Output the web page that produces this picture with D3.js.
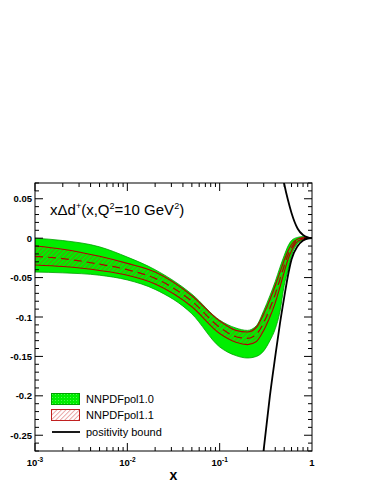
<!DOCTYPE html>
<html><head><meta charset="utf-8">
<script src="https://cdn.jsdelivr.net/npm/d3@7/dist/d3.min.js"></script>
<style>body{margin:0;background:#fff}svg{display:block}text{font-family:"Liberation Sans",Arial,Helvetica,sans-serif}</style>
</head><body><svg id="c" width="375" height="485"></svg>
<script>
// ---- data ----
const xs        = [0.001, 0.002, 0.005, 0.01, 0.02, 0.05, 0.1, 0.15, 0.2, 0.25, 0.3, 0.35, 0.4, 0.45, 0.5, 0.55, 0.6, 0.7, 0.8, 0.9, 1.0];
// NNPDFpol1.0 band
const pol10Low  = [-0.043,-0.044,-0.047,-0.053,-0.065,-0.096,-0.138,-0.149,-0.152,-0.150,-0.143,-0.130,-0.115,-0.093,-0.060,-0.040,-0.022,-0.007,-0.002,-0.0005,0];
const pol10High = [ 0.000,-0.003,-0.011,-0.024,-0.040,-0.071,-0.104,-0.114,-0.117,-0.111,-0.092,-0.073,-0.055,-0.037,-0.022,-0.010,-0.003, 0.001, 0.002, 0.001,0];
// NNPDFpol1.1 band and central value
const pol11Low  = [-0.034,-0.036,-0.041,-0.047,-0.058,-0.087,-0.121,-0.132,-0.135,-0.131,-0.117,-0.100,-0.082,-0.062,-0.043,-0.027,-0.016,-0.004,-0.001,0,0];
const pol11High = [-0.010,-0.014,-0.023,-0.032,-0.043,-0.073,-0.105,-0.117,-0.119,-0.113,-0.096,-0.078,-0.060,-0.043,-0.028,-0.016,-0.008,-0.001,0.0005,0.0003,0];
const pol11Mid  = [-0.023,-0.026,-0.033,-0.040,-0.051,-0.080,-0.113,-0.125,-0.127,-0.122,-0.107,-0.089,-0.071,-0.052,-0.035,-0.021,-0.012,-0.002,0,0,0];
// positivity bounds
const posUpX    = [0.45, 0.5, 0.55, 0.6, 0.7, 0.8, 0.9, 1.0];
const posUpY    = [0.100, 0.069, 0.048, 0.032, 0.012, 0.004, 0.001, 0];
const posLowX   = [0.27, 0.3, 0.35, 0.4, 0.45, 0.5, 0.55, 0.6, 0.7, 0.8, 0.9, 1.0];
const posLowY   = [-0.31, -0.268, -0.200, -0.150, -0.108, -0.075, -0.047, -0.027, -0.010, -0.003, -0.0005, 0];
// ticks
const yTicks      = [0.05, 0, -0.05, -0.1, -0.15, -0.2, -0.25];
const yTickLabels = ["0.05", "0", "-0.05", "-0.1", "-0.15", "-0.2", "-0.25"];
const xTicks      = [0.001, 0.01, 0.1, 1];
const xTickExp    = ["-3", "-2", "-1", ""];
const legendLabels = ["NNPDFpol1.0", "NNPDFpol1.1", "positivity bound"];

// ---- layout ----
const svg = d3.select("#c");
const L = 35, R = 312, T = 183, B = 451;
const x = d3.scaleLog().domain([0.001, 1]).range([L, R]);
const y = d3.scaleLinear().domain([-0.27, 0.07]).range([B, T]);

const defs = svg.append("defs");
defs.append("clipPath").attr("id", "clip").append("rect")
  .attr("x", L).attr("y", T).attr("width", R - L).attr("height", B - T);
const hatch = defs.append("pattern").attr("id", "hatch")
  .attr("patternUnits", "userSpaceOnUse").attr("width", 3.2).attr("height", 3.2)
  .attr("patternTransform", "rotate(45)");
hatch.append("line").attr("x1", 0.5).attr("y1", 0).attr("x2", 0.5).attr("y2", 3.2)
  .attr("stroke", "#c82020").attr("stroke-width", 0.8).attr("stroke-opacity", 0.5);
const dots = defs.append("pattern").attr("id", "dots")
  .attr("patternUnits", "userSpaceOnUse").attr("width", 3).attr("height", 3);
dots.append("rect").attr("width", 3).attr("height", 3).attr("fill", "#00ee00");
dots.append("rect").attr("x", 1).attr("y", 1).attr("width", 0.8).attr("height", 0.8).attr("fill", "#7dff7d");

const g = svg.append("g").attr("clip-path", "url(#clip)");
const curve = d3.curveMonotoneX;
const pts = (lo, hi) => xs.map((v, i) => ({x: v, lo: lo[i], hi: hi[i]}));
const area = d3.area().x(d => x(d.x)).y0(d => y(d.lo)).y1(d => y(d.hi)).curve(curve);
const line = d3.line().x(d => x(d[0])).y(d => y(d[1])).curve(curve);

// green band
g.append("path").datum(pts(pol10Low, pol10High)).attr("d", area)
  .attr("fill", "#00ee00").attr("stroke", "#00a000").attr("stroke-width", 0.8);
// red hatched band
g.append("path").datum(pts(pol11Low, pol11High)).attr("d", area).attr("fill", "url(#hatch)");
g.append("path").datum(xs.map((v, i) => [v, pol11Low[i]])).attr("d", line)
  .attr("fill", "none").attr("stroke", "#b00000").attr("stroke-width", 1.1);
g.append("path").datum(xs.map((v, i) => [v, pol11High[i]])).attr("d", line)
  .attr("fill", "none").attr("stroke", "#b00000").attr("stroke-width", 1.1);
g.append("path").datum(xs.map((v, i) => [v, pol11Mid[i]])).attr("d", line)
  .attr("fill", "none").attr("stroke", "#b00000").attr("stroke-width", 1.2).attr("stroke-dasharray", "8,5");
// positivity bounds
g.append("path").datum(posUpX.map((v, i) => [v, posUpY[i]])).attr("d", line)
  .attr("fill", "none").attr("stroke", "#000").attr("stroke-width", 1.8);
g.append("path").datum(posLowX.map((v, i) => [v, posLowY[i]])).attr("d", line)
  .attr("fill", "none").attr("stroke", "#000").attr("stroke-width", 1.8);

// frame
svg.append("rect").attr("x", L).attr("y", T).attr("width", R - L).attr("height", B - T)
  .attr("fill", "none").attr("stroke", "#000").attr("stroke-width", 1);

// ticks
const tk = svg.append("g").attr("stroke", "#000").attr("stroke-width", 1);
const yMinor = d3.range(-27, 8).map(k => k / 100);
yMinor.forEach(v => {
  const major = yTicks.some(t => Math.abs(t - v) < 1e-9);
  const len = major ? 8 : 4;
  tk.append("line").attr("x1", L).attr("x2", L + len).attr("y1", y(v)).attr("y2", y(v));
  tk.append("line").attr("x1", R).attr("x2", R - len).attr("y1", y(v)).attr("y2", y(v));
});
[-3, -2, -1].forEach(e => {
  for (let k = 1; k <= 9; k++) {
    const v = k * Math.pow(10, e);
    const len = k === 1 ? 8 : 4;
    tk.append("line").attr("x1", x(v)).attr("x2", x(v)).attr("y1", B).attr("y2", B - len);
    tk.append("line").attr("x1", x(v)).attr("x2", x(v)).attr("y1", T).attr("y2", T + len);
  }
});

// y labels
yTicks.forEach((v, i) => {
  svg.append("text").attr("x", 32).attr("y", y(v) + 3.5).attr("text-anchor", "end")
    .attr("font-size", 9.5).attr("font-weight", "bold").text(yTickLabels[i]);
});
// x labels
xTicks.forEach((v, i) => {
  const t = svg.append("text").attr("x", x(v)).attr("y", 466).attr("text-anchor", "middle")
    .attr("font-size", 9.5).attr("font-weight", "bold");
  if (xTickExp[i] === "") { t.text("1"); }
  else {
    t.append("tspan").text("10");
    t.append("tspan").attr("dy", -4).attr("font-size", 6.5).text(xTickExp[i]);
  }
});
svg.append("text").attr("x", (L + R) / 2).attr("y", 480).attr("text-anchor", "middle")
  .attr("font-size", 14).attr("font-weight", "bold").text("x");

// title
const title = svg.append("text").attr("x", 50).attr("y", 215).attr("font-size", 15);
title.append("tspan").text("xΔd");
title.append("tspan").attr("dy", -6).attr("font-size", 9).text("+");
title.append("tspan").attr("dy", 6).text("(x,Q");
title.append("tspan").attr("dy", -6).attr("font-size", 9).text("2");
title.append("tspan").attr("dy", 6).text("=10 GeV");
title.append("tspan").attr("dy", -6).attr("font-size", 9).text("2");
title.append("tspan").attr("dy", 6).text(")");

// legend
const lg = svg.append("g");
lg.append("rect").attr("x", 51.5).attr("y", 393.5).attr("width", 28).attr("height", 11)
  .attr("fill", "url(#dots)").attr("stroke", "#00a000").attr("stroke-width", 1);
lg.append("rect").attr("x", 51.5).attr("y", 409.5).attr("width", 28).attr("height", 11)
  .attr("fill", "#fff").attr("stroke", "#c02020").attr("stroke-width", 1);
lg.append("rect").attr("x", 51.5).attr("y", 409.5).attr("width", 28).attr("height", 11)
  .attr("fill", "url(#hatch)");
lg.append("line").attr("x1", 52).attr("x2", 80).attr("y1", 432).attr("y2", 432)
  .attr("stroke", "#000").attr("stroke-width", 1.8);
[403, 419, 436].forEach((yy, i) => {
  lg.append("text").attr("x", 86).attr("y", yy).attr("font-size", 11).text(legendLabels[i]);
});
</script></body></html>
